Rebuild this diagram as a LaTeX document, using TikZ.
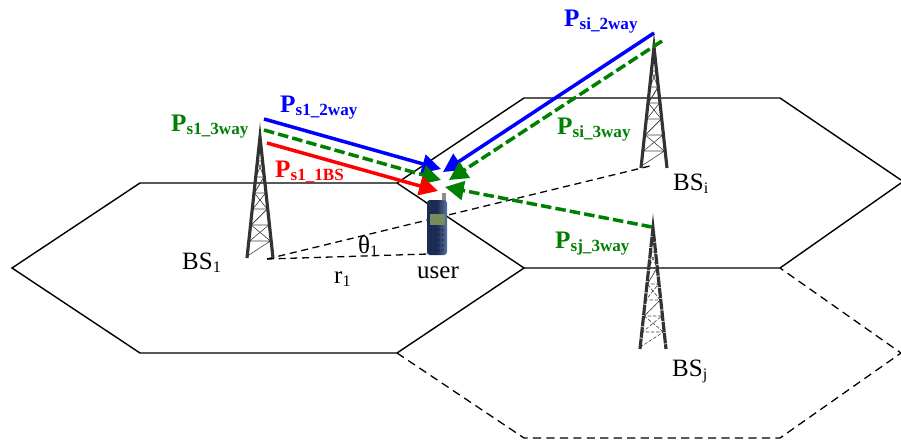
\documentclass[tikz,border=0pt]{standalone}
\usepackage{fontspec}
\setmainfont{Liberation Serif}
\usetikzlibrary{arrows.meta}
\definecolor{phonelight}{RGB}{88,116,160}
\definecolor{phonedark}{RGB}{28,44,84}
\definecolor{phonescreen}{RGB}{120,140,90}
\definecolor{phonekey}{RGB}{20,32,64}
\newcommand{\powlabel}[1]{\bfseries\fontsize{21.5}{23}\selectfont P\raisebox{-2.8pt}{\fontsize{14.6}{16}\selectfont #1}}
\newcommand{\baselabel}[2]{\fontsize{21.3}{23}\selectfont #1\raisebox{-3.2pt}{\fontsize{13.7}{15}\selectfont #2}}
\tikzset{
  hexline/.style={line width=1.2pt, black},
  hexdash/.style={line width=1.1pt, black, dash pattern=on 7pt off 4.5pt},
  rangeline/.style={line width=1.1pt, black, dash pattern=on 6pt off 4pt},
  twoway/.style={line width=3pt, blue, -{Triangle[length=16pt,width=16pt]}},
  threeway/.style={line width=3pt, green!50!black, dash pattern=on 9pt off 3.5pt, -{Triangle[length=16pt,width=16pt]}},
  onebs/.style={line width=3pt, red, -{Triangle[length=16pt,width=16pt]}},
  towerleg/.style={line width=2.7pt, black!80},
  towerbar/.style={line width=0.5pt, black!75},
  txt/.style={inner sep=0pt, anchor=base west},
  tower/.pic={
    \draw[towerbar] (-2.6,24) -- (2.6,24) -- (-4,40) -- (4,40) -- (-5.6,56) -- (5.6,56)
      -- (-7.2,72) -- (7.2,72) -- (-8.8,88) -- (8.8,88) -- (-10.4,104) -- (10.4,104) -- (-12.6,119);
    \draw[towerbar] (-2.6,24) -- (4,40) -- (-5.6,56) -- (7.2,72) -- (-8.8,88) -- (10.4,104) -- (12.6,119);
    \draw[towerleg] (-13,121) -- (0,0) -- (13,121);
  }
}
\begin{document}
\begin{tikzpicture}[x=0.03cm, y=-0.03cm]
  \useasboundingbox (0,0) rectangle (901,444);
  % cells
  \draw[hexdash] (397,353) -- (524,438) -- (780,438) -- (901,353) -- (780,268);
  \draw[hexline] (397,183) -- (140,183) -- (12,268) -- (140,353) -- (397,353) -- (524,268) -- (397,183);
  \draw[hexline] (397,183) -- (524,98) -- (780,98) -- (901,180);
  \draw[hexline] (524,268) -- (780,268) -- (901,183);
  % distances
  \coordinate (bsonefoot) at (267,259);
  \coordinate (bsifoot) at (650,166);
  \coordinate (phonefoot) at (428,254);
  \draw[rangeline] (bsonefoot) -- (bsifoot);
  \draw[rangeline] (bsonefoot) -- (phonefoot);
  % phone
  \fill[black!45] (442,193) rectangle (446,206);
  \shade[left color=phonedark, right color=phonelight, middle color=phonedark, rounded corners=2.5pt] (427,200) rectangle (447,255);
  \fill[phonescreen] (430,214) rectangle (445,225);
  \foreach \px in {431,435,439,443}
    \foreach \py in {230,235,...,250}
      \fill[phonekey] (\px,\py) circle (0.9);
  % towers
  \pic at (260,137) {tower};
  \pic at (654,47) {tower};
  \begin{scope}[towerleg/.append style={dash pattern=on 9pt off 0.7pt}, towerbar/.append style={dash pattern=on 3pt off 1.5pt}]
    \pic at (653,228) {tower};
  \end{scope}
  % powers
  \coordinate (twostart) at (264,119);
  \coordinate (twoend) at (441,169);
  \coordinate (threestart) at (264,130);
  \coordinate (threeend) at (441,180);
  \coordinate (redstart) at (267,143);
  \coordinate (redend) at (438,191);
  \coordinate (sistart) at (654,33);
  \coordinate (siend) at (443,172);
  \coordinate (sithree) at (662,41);
  \coordinate (sithreeend) at (449,180);
  \coordinate (sjstart) at (652,227);
  \coordinate (sjend) at (445,187);
  \draw[twoway] (twostart) -- (twoend);
  \draw[threeway] (threestart) -- (threeend);
  \draw[onebs] (redstart) -- (redend);
  \draw[twoway] (sistart) -- (siend);
  \draw[threeway] (sithree) -- (sithreeend);
  \draw[threeway] (sjstart) -- (sjend);
  % labels
  \node[txt, blue] (ponetwo) at (280,112) {\powlabel{s1\_2way}};
  \node[txt, green!50!black] (ponethree) at (171,131) {\powlabel{s1\_3way}};
  \node[txt, red] (ponebs) at (275,177) {\powlabel{s1\_1BS}};
  \node[txt, blue] (psitwo) at (564,26) {\powlabel{si\_2way}};
  \node[txt, green!50!black] (psithree) at (557,134) {\powlabel{si\_3way}};
  \node[txt, green!50!black] (psjthree) at (555,248) {\powlabel{sj\_3way}};
  \node[txt] (bsone) at (182,269) {\baselabel{BS}{1}};
  \node[txt] (bsi) at (673,190) {\baselabel{BS}{i}};
  \node[txt] (bsj) at (672,376) {\baselabel{BS}{j}};
  \node[txt] (rone) at (334,283) {\baselabel{r}{1}};
  \node[txt] (thetaone) at (358,253) {\baselabel{θ}{1}};
  \node[txt] (user) at (417,278) {\baselabel{user}{}};
\end{tikzpicture}
\end{document}
